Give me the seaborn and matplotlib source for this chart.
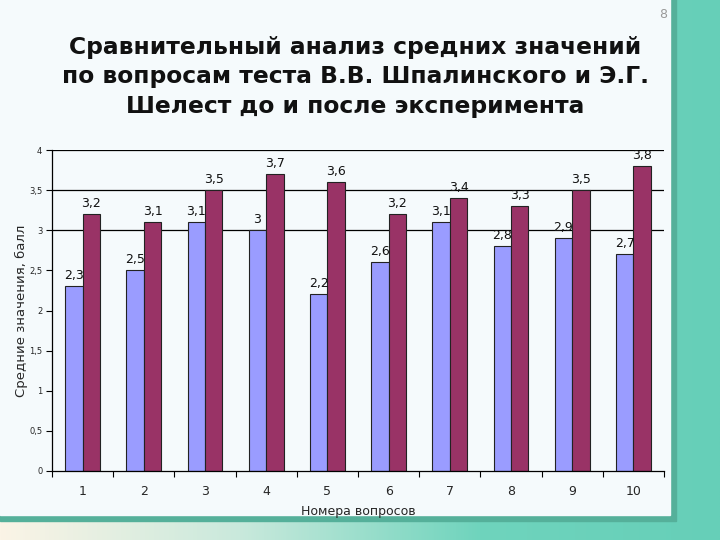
import numpy as np
import pandas as pd
import matplotlib
matplotlib.use("Agg")
import matplotlib.pyplot as plt
import seaborn as sns
from matplotlib.patches import Rectangle
from matplotlib.colors import LinearSegmentedColormap

questions = ["1", "2", "3", "4", "5", "6", "7", "8", "9", "10"]
before = [2.3, 2.5, 3.1, 3.0, 2.2, 2.6, 3.1, 2.8, 2.9, 2.7]
after = [3.2, 3.1, 3.5, 3.7, 3.6, 3.2, 3.4, 3.3, 3.5, 3.8]
series_names = ["До эксперимента", "После эксперимента"]
yticks = [0, 0.5, 1, 1.5, 2, 2.5, 3, 3.5, 4]
title = "Сравнительный анализ средних значений\nпо вопросам теста В.В. Шпалинского и Э.Г.\nШелест до и после эксперимента"
xlabel = "Номера вопросов"
ylabel = "Средние значения, балл"

df = pd.DataFrame({
    "q": questions * 2,
    "v": before + after,
    "s": [series_names[0]] * len(questions) + [series_names[1]] * len(questions),
})

sns.set_theme(style="white")
plt.rcParams['font.family'] = ['DejaVu Sans']

fig = plt.figure(figsize=(7.2, 5.4), dpi=100)

# background gradient
bg = fig.add_axes([0, 0, 1, 1], zorder=-10)
bg.set_axis_off()
cmap = LinearSegmentedColormap.from_list("bgc", ["#FBF4E6", "#C9E9DC", "#6FD4BD", "#66CFB8"])
grad = np.tile(np.linspace(0, 1, 256), (2, 1))
bg.imshow(grad, aspect="auto", cmap=cmap, extent=[0, 1, 0, 1], transform=bg.transAxes)
bg.set_xlim(0, 1); bg.set_ylim(0, 1)
# shadow and panel
bg.add_patch(Rectangle((0, (540 - 521) / 540), 676 / 720, 1, color="#55B09A", transform=bg.transAxes))
bg.add_patch(Rectangle((0, (540 - 515) / 540), 670 / 720, 1, color="#F5FAFC", transform=bg.transAxes))

ax = fig.add_axes([52 / 720, 1 - 471 / 540, 612 / 720, 321 / 540])
ax.patch.set_visible(False)

for yv in [3, 3.5, 4]:
    ax.axhline(yv, color="black", lw=0.9, zorder=0)

sns.barplot(data=df, x="q", y="v", hue="s", palette=["#9A9CFF", "#993366"],
            width=0.57, edgecolor="#222222", linewidth=0.8, ax=ax, legend=False,
            saturation=1)

for cont in ax.containers:
    labels = [f"{v:g}".replace(".", ",") for v in cont.datavalues]
    ax.bar_label(cont, labels=labels, padding=3, fontsize=9, color="#111111")

ax.set_ylim(0, 4)
ax.set_xlim(-0.5, 9.5)
ax.set_yticks(yticks)
ax.set_yticklabels([f"{v:g}".replace(".", ",") for v in yticks], fontsize=6)
ax.tick_params(axis="y", length=4, width=0.8, color="black", left=True, pad=3)
ax.tick_params(axis="x", which="major", length=0, labelsize=9, pad=10)
ax.set_xticks(np.arange(-0.5, 10, 1), minor=True)
ax.tick_params(axis="x", which="minor", length=4, width=0.8, color="black", bottom=True, direction="out")
ax.set_xlabel(xlabel, fontsize=9, labelpad=5)
ax.set_ylabel(ylabel, fontsize=9.5, labelpad=1)
for sp in ["top", "right"]:
    ax.spines[sp].set_visible(False)
for sp in ["left", "bottom"]:
    ax.spines[sp].set_color("black")
    ax.spines[sp].set_linewidth(0.9)

fig.text(355 / 720, 1 - 77 / 540, title, ha="center", va="center", fontsize=16.8,
         fontweight="bold", linespacing=1.35, color="#111111")
fig.text(663 / 720, 1 - 15 / 540, "8", ha="center", va="center", fontsize=9, color="#999999")

fig.savefig("out.png", dpi=100)
